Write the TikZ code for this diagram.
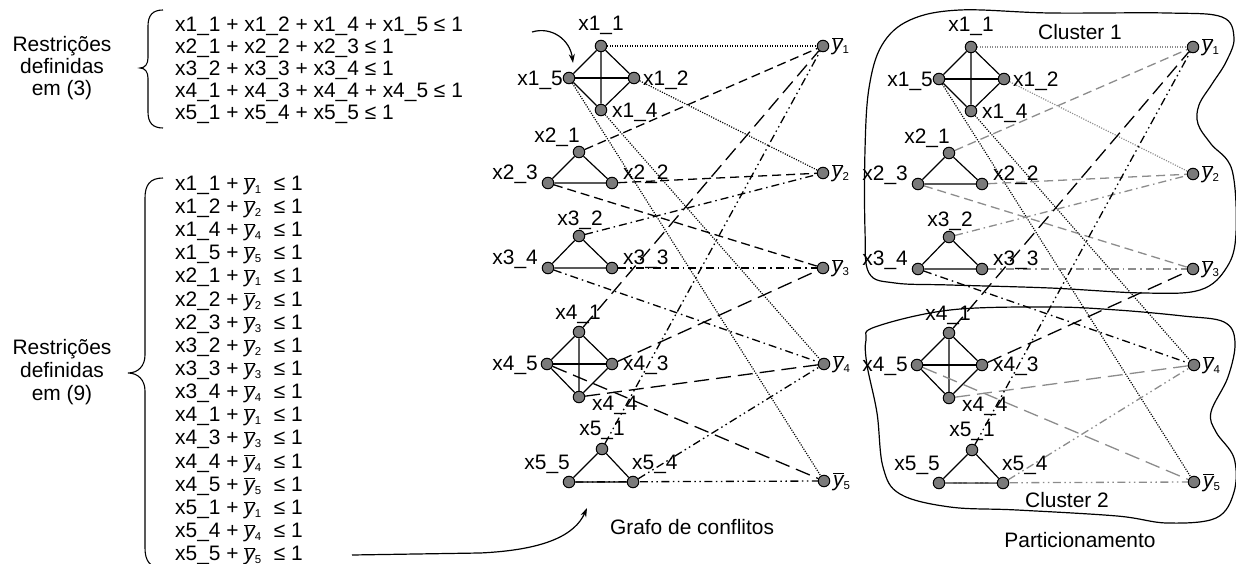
\documentclass[tikz,border=0pt]{standalone}
\usepackage{fontspec}
\setmainfont{Liberation Sans}
\usetikzlibrary{arrows.meta,backgrounds}

\newcommand\yb[1]{$\overline{\hbox{\itshape y}}$\raisebox{-3bp}{\fontsize{11.5}{12}\selectfont #1}}

\tikzset{
 vtx/.style={circle, draw=black, fill=black!52, line width=1bp, minimum size=11.5bp, inner sep=0pt},
 lbl/.style={inner sep=0pt, anchor=base},
 lblL/.style={inner sep=0pt, anchor=base east},
 lblR/.style={inner sep=0pt, anchor=base west},
 gedge/.style={line width=1.2bp},
 c1/.style={line width=1.2bp, dash pattern=on 1.1bp off 1.4bp},
 c2/.style={line width=1.3bp, dash pattern=on 9bp off 5bp},
 c3/.style={line width=1.3bp, dash pattern=on 8bp off 4bp on 1.5bp off 4bp},
 c4/.style={line width=1.3bp, dash pattern=on 15bp off 7bp},
 c5/.style={line width=1.3bp, dash pattern=on 8bp off 3.5bp on 1.5bp off 3.5bp on 1.5bp off 3.5bp},
 blob/.style={line width=1.2bp},
 txt/.style={inner sep=0pt, anchor=base west},
 ctxt/.style={inner sep=0pt, anchor=base},
 arr/.style={line width=1.2bp, -{Stealth[length=9bp,width=6bp]}},
}

\newcommand\conflictgraph[5]{%
\begin{scope}[shift={(#2,#3)}, intra/.style={draw=#4}, inter/.style={draw=#5}]
 \node[vtx] (#1x11) at (601,46) {};
 \node[vtx] (#1x15) at (569,78) {};
 \node[vtx] (#1x12) at (634,78) {};
 \node[vtx] (#1x14) at (601,110) {};
 \node[vtx] (#1x21) at (579,152) {};
 \node[vtx] (#1x23) at (548,183) {};
 \node[vtx] (#1x22) at (612,183) {};
 \node[vtx] (#1x32) at (579,236) {};
 \node[vtx] (#1x34) at (548,268) {};
 \node[vtx] (#1x33) at (612,268) {};
 \node[vtx] (#1x41) at (579,332) {};
 \node[vtx] (#1x45) at (547,364) {};
 \node[vtx] (#1x43) at (612,364) {};
 \node[vtx] (#1x44) at (579,397) {};
 \node[vtx] (#1x51) at (602,449) {};
 \node[vtx] (#1x55) at (569,482) {};
 \node[vtx] (#1x54) at (633,482) {};
 \node[vtx] (#1y1) at (823,46) {};
 \node[vtx] (#1y2) at (823,173) {};
 \node[vtx] (#1y3) at (823,268) {};
 \node[vtx] (#1y4) at (824,364) {};
 \node[vtx] (#1y5) at (824,481) {};
 % labels
 \node[lbl]  (#1t11) at (601,30.5) {x1\_1};
 \node[lblL] (#1t15) at (563,85.5) {x1\_5};
 \node[lblR] (#1t12) at (643,85.5) {x1\_2};
 \node[lblR] (#1t14) at (612,118) {x1\_4};
 \node[lbl]  (#1t21) at (557,142.5) {x2\_1};
 \node[lblL] (#1t23) at (538,179.5) {x2\_3};
 \node[lblR] (#1t22) at (623,179.5) {x2\_2};
 \node[lbl]  (#1t32) at (580,225.5) {x3\_2};
 \node[lblL] (#1t34) at (538,264.5) {x3\_4};
 \node[lblR] (#1t33) at (623,264.5) {x3\_3};
 \node[lbl]  (#1t41) at (578,319.5) {x4\_1};
 \node[lblL] (#1t45) at (538,370.5) {x4\_5};
 \node[lblR] (#1t43) at (623,370.5) {x4\_3};
 \node[lblR] (#1t44) at (592,410.5) {x4\_4};
 \node[lbl]  (#1t51) at (602,435.5) {x5\_1};
 \node[lblL] (#1t55) at (570,469.5) {x5\_5};
 \node[lblR] (#1t54) at (632,469.5) {x5\_4};
 \node[lblR] (#1ty1) at (832,51) {\yb{1}};
 \node[lblR] (#1ty2) at (832,178) {\yb{2}};
 \node[lblR] (#1ty3) at (832,273) {\yb{3}};
 \node[lblR] (#1ty4) at (833,369) {\yb{4}};
 \node[lblR] (#1ty5) at (833,486) {\yb{5}};
 \begin{pgfonlayer}{background}
  \draw[gedge] (#1x11) -- (#1x15) -- (#1x14) -- (#1x12) -- (#1x11) -- (#1x14);
  \draw[gedge] (#1x15) -- (#1x12);
  \draw[gedge] (#1x21) -- (#1x23) -- (#1x22) -- (#1x21);
  \draw[gedge] (#1x32) -- (#1x34) -- (#1x33) -- (#1x32);
  \draw[gedge] (#1x41) -- (#1x45) -- (#1x44) -- (#1x43) -- (#1x41) -- (#1x44);
  \draw[gedge] (#1x45) -- (#1x43);
  \draw[gedge] (#1x51) -- (#1x55) -- (#1x54) -- (#1x51);
  \draw[c1,intra] (#1x11) -- (#1y1);
  \draw[c1,intra] (#1x12) -- (#1y2);
  \draw[c1,inter] (#1x14) -- (#1y4);
  \draw[c1,inter] (#1x15) -- (#1y5);
  \draw[c2,intra] (#1x21) -- (#1y1);
  \draw[c2,intra] (#1x22) -- (#1y2);
  \draw[c2,intra] (#1x23) -- (#1y3);
  \draw[c3,intra] (#1x32) -- (#1y2);
  \draw[c3,intra] (#1x33) -- (#1y3);
  \draw[c3,inter] (#1x34) -- (#1y4);
  \draw[c4,inter] (#1x41) -- (#1y1);
  \draw[c4,inter] (#1x43) -- (#1y3);
  \draw[c4,intra] (#1x44) -- (#1y4);
  \draw[c4,intra] (#1x45) -- (#1y5);
  \draw[c5,inter] (#1x51) -- (#1y1);
  \draw[c5,intra] (#1x54) -- (#1y4);
  \draw[c5,intra] (#1x55) -- (#1y5);
 \end{pgfonlayer}
\end{scope}}

\begin{document}
\begin{tikzpicture}[x=1bp, y=-1bp, font=\fontsize{21}{22}\selectfont]
\useasboundingbox (0,0) rectangle (1236,564);

% ---- top constraint block
\node[align=center, inner sep=0pt] (r3) at (62,68) {Restrições\\definidas\\em (3)};
\draw[line width=1.1bp] (163,10) .. controls (153,10) and (148,15) .. (148,26) -- (148,58)
  .. controls (148,64) and (145,68) .. (140,68) .. controls (145,68) and (148,72) .. (148,78)
  -- (148,112) .. controls (148,123) and (153,128) .. (163,128);
\node[txt] (f1) at (175,31.5) {x1\_1 + x1\_2 + x1\_4 + x1\_5 ≤ 1};
\node[txt] (f2) at (175,53.5) {x2\_1 + x2\_2 + x2\_3 ≤ 1};
\node[txt] (f3) at (175,75.5) {x3\_2 + x3\_3 + x3\_4 ≤ 1};
\node[txt] (f4) at (175,97.5) {x4\_1 + x4\_3 + x4\_4 + x4\_5 ≤ 1};
\node[txt] (f5) at (175,119.5) {x5\_1 + x5\_4 + x5\_5 ≤ 1};

% ---- bottom constraint block
\node[align=center, inner sep=0pt, font=\fontsize{21}{23}\selectfont] (r9) at (62,372) {Restrições\\definidas\\em (9)};
\draw[line width=1.1bp] (163,178) .. controls (150,178) and (145,185) .. (145,198) -- (145,355)
  .. controls (145,366) and (138,373) .. (128,373) .. controls (138,373) and (145,380) .. (145,391)
  -- (145,548) .. controls (145,561) and (150,568) .. (163,568);
\foreach \i/\t in {0/{x1\_1 + \yb{1}},1/{x1\_2 + \yb{2}},2/{x1\_4 + \yb{4}},3/{x1\_5 + \yb{5}},
  4/{x2\_1 + \yb{1}},5/{x2\_2 + \yb{2}},6/{x2\_3 + \yb{3}},7/{x3\_2 + \yb{2}},8/{x3\_3 + \yb{3}},
  9/{x3\_4 + \yb{4}},10/{x4\_1 + \yb{1}},11/{x4\_3 + \yb{3}},12/{x4\_4 + \yb{4}},13/{x4\_5 + \yb{5}},
  14/{x5\_1 + \yb{1}},15/{x5\_4 + \yb{4}},16/{x5\_5 + \yb{5}}}{
  \node[txt] (g\i) at (175,190.5+23.125*\i) {\t\hspace{0.6em}≤ 1};
}

% ---- cluster blobs
\draw[blob] plot[smooth cycle, tension=0.6] coordinates {(960,10) (1050,13) (1167,13) (1222,17) (1234,38) (1226,62) (1212,84) (1199,105) (1198,124) (1211,144) (1232,170) (1236,233) (1227,267) (1200,290) (1143,293) (1050,288) (950,285) (895,283) (869,273) (865,230) (865,150) (869,88) (882,45) (910,20)};
\draw[blob] plot[smooth cycle, tension=0.6] coordinates {(875,327) (950,310) (1050,307) (1117,310) (1183,316) (1224,322) (1235,342) (1228,377) (1211,412) (1216,432) (1234,458) (1234,492) (1216,518) (1167,523) (1117,516) (1017,510) (950,507) (900,494) (883,467) (877,413) (867,365) (866,340)};

% ---- graphs
\conflictgraph{m}{0}{0}{black}{black}
\conflictgraph{r}{370}{1}{black!45}{black}

% ---- captions
\node[ctxt] (cap1) at (692,534.5) {Grafo de conflitos};
\node[ctxt] (cap2) at (1080,547.5) {Particionamento};
\node[ctxt] (cl1) at (1080,39.5) {Cluster 1};
\node[ctxt] (cl2) at (1067,507.5) {Cluster 2};

% ---- arrows
\coordinate (a1s) at (532,32);
\coordinate (a1e) at (573,63);
\draw[arr] (a1s) .. controls (552,26) and (570,40) .. (a1e);
\coordinate (a2s) at (352,555);
\coordinate (a2m) at (480,553);
\coordinate (a2e) at (587,508);
\draw[arr] (a2s) -- (a2m) .. controls (545,550) and (575,535) .. (a2e);
\end{tikzpicture}
\end{document}
